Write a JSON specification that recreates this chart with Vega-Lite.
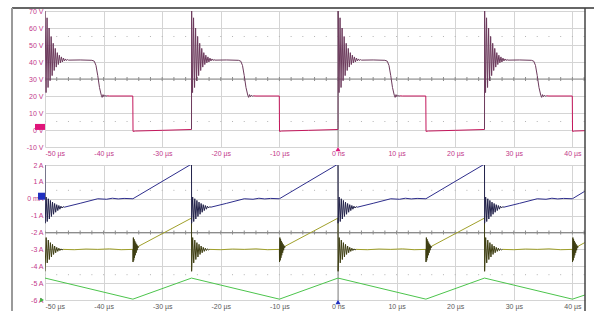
{
"$schema": "https://vega.github.io/schema/vega-lite/v6.json",
"padding": {"left": 11, "top": 7, "right": 0, "bottom": 0},
"background": "white",
"spacing": 18,
"bounds": "flush",
"resolve": {"scale": {"color": "independent"}},
"config": {"view": {"stroke": null}, "axis": {"labelFont": "Liberation Sans", "labelFontSize": 7, "tickSize": 0, "domain": false, "gridColor": "#d4d4d4", "gridWidth": 1, "labelPadding": 2, "title": null, "labelOverlap": false}},
"datasets": {
"V": [
{"k":"1r","c":"vr","t":-50,"v":75},{"k":"1r","c":"vr","t":-49.82,"v":22},{"k":"1r","c":"vr","t":-49.65,"v":66},{"k":"1r","c":"vr","t":-49.48,"v":25},{"k":"1r","c":"vr","t":-49.3,"v":60},{"k":"1r","c":"vr","t":-49.13,"v":29},{"k":"1r","c":"vr","t":-48.95,"v":55},{"k":"1r","c":"vr","t":-48.78,"v":32},{"k":"1r","c":"vr","t":-48.6,"v":51},{"k":"1r","c":"vr","t":-48.43,"v":35},{"k":"1r","c":"vr","t":-48.25,"v":48},{"k":"1r","c":"vr","t":-48.08,"v":37},{"k":"1r","c":"vr","t":-47.9,"v":45.5},{"k":"1r","c":"vr","t":-47.73,"v":38.5},{"k":"1r","c":"vr","t":-47.55,"v":44},{"k":"1r","c":"vr","t":-47.38,"v":39.5},{"k":"1r","c":"vr","t":-47.2,"v":43},{"k":"1r","c":"vr","t":-47.03,"v":40},{"k":"1r","c":"vr","t":-46.85,"v":42.3},{"k":"1r","c":"vr","t":-46.68,"v":40.6},{"k":"1r","c":"vr","t":-46.5,"v":41.8},{"k":"1r","c":"vr","t":-46.33,"v":40.9},{"k":"1r","c":"vr","t":-46.15,"v":41.4},{"k":"1r","c":"vr","t":-46,"v":41.1},{"k":"1r","c":"vr","t":-44,"v":41.2},{"k":"1r","c":"vr","t":-42,"v":41},{"k":"1r","c":"vr","t":-41.6,"v":40.5},{"k":"1r","c":"vr","t":-41.3,"v":38},{"k":"1r","c":"vr","t":-41,"v":32},{"k":"1r","c":"vr","t":-40.7,"v":25},{"k":"1r","c":"vr","t":-40.4,"v":20.5},{"k":"1r","c":"vr","t":-40.25,"v":19.2},{"k":"1r","c":"vr","t":-40.1,"v":20.8},{"k":"1r","c":"vr","t":-39.95,"v":19.6},{"k":"1r","c":"vr","t":-39.8,"v":20.4},{"k":"1r","c":"vr","t":-39.6,"v":19.9},{"k":"1r","c":"vr","t":-39.4,"v":20.1},
{"k":"1s","c":"vs","t":-39.4,"v":20.1},{"k":"1s","c":"vs","t":-39,"v":20},{"k":"1s","c":"vs","t":-35.02,"v":20},{"k":"1s","c":"vs","t":-34.98,"v":-0.8},{"k":"1s","c":"vs","t":-34.6,"v":-0.6},{"k":"1s","c":"vs","t":-30,"v":-0.2},{"k":"1s","c":"vs","t":-25.02,"v":0.3},{"k":"1s","c":"vs","t":-25,"v":0.3},
{"k":"2r","c":"vr","t":-25,"v":0.3},{"k":"2r","c":"vr","t":-24.98,"v":75},{"k":"2r","c":"vr","t":-24.82,"v":22},{"k":"2r","c":"vr","t":-24.65,"v":66},{"k":"2r","c":"vr","t":-24.48,"v":25},{"k":"2r","c":"vr","t":-24.3,"v":60},{"k":"2r","c":"vr","t":-24.13,"v":29},{"k":"2r","c":"vr","t":-23.95,"v":55},{"k":"2r","c":"vr","t":-23.78,"v":32},{"k":"2r","c":"vr","t":-23.6,"v":51},{"k":"2r","c":"vr","t":-23.43,"v":35},{"k":"2r","c":"vr","t":-23.25,"v":48},{"k":"2r","c":"vr","t":-23.08,"v":37},{"k":"2r","c":"vr","t":-22.9,"v":45.5},{"k":"2r","c":"vr","t":-22.73,"v":38.5},{"k":"2r","c":"vr","t":-22.55,"v":44},{"k":"2r","c":"vr","t":-22.38,"v":39.5},{"k":"2r","c":"vr","t":-22.2,"v":43},{"k":"2r","c":"vr","t":-22.03,"v":40},{"k":"2r","c":"vr","t":-21.85,"v":42.3},{"k":"2r","c":"vr","t":-21.68,"v":40.6},{"k":"2r","c":"vr","t":-21.5,"v":41.8},{"k":"2r","c":"vr","t":-21.33,"v":40.9},{"k":"2r","c":"vr","t":-21.15,"v":41.4},{"k":"2r","c":"vr","t":-21,"v":41.1},{"k":"2r","c":"vr","t":-19,"v":41.2},{"k":"2r","c":"vr","t":-17,"v":41},{"k":"2r","c":"vr","t":-16.6,"v":40.5},{"k":"2r","c":"vr","t":-16.3,"v":38},{"k":"2r","c":"vr","t":-16,"v":32},{"k":"2r","c":"vr","t":-15.7,"v":25},{"k":"2r","c":"vr","t":-15.4,"v":20.5},{"k":"2r","c":"vr","t":-15.25,"v":19.2},{"k":"2r","c":"vr","t":-15.1,"v":20.8},{"k":"2r","c":"vr","t":-14.95,"v":19.6},{"k":"2r","c":"vr","t":-14.8,"v":20.4},{"k":"2r","c":"vr","t":-14.6,"v":19.9},{"k":"2r","c":"vr","t":-14.4,"v":20.1},
{"k":"2s","c":"vs","t":-14.4,"v":20.1},{"k":"2s","c":"vs","t":-14,"v":20},{"k":"2s","c":"vs","t":-10.02,"v":20},{"k":"2s","c":"vs","t":-9.98,"v":-0.8},{"k":"2s","c":"vs","t":-9.6,"v":-0.6},{"k":"2s","c":"vs","t":-5,"v":-0.2},{"k":"2s","c":"vs","t":-0.02,"v":0.3},{"k":"2s","c":"vs","t":0,"v":0.3},
{"k":"3r","c":"vr","t":0,"v":0.3},{"k":"3r","c":"vr","t":0.02,"v":75},{"k":"3r","c":"vr","t":0.18,"v":22},{"k":"3r","c":"vr","t":0.35,"v":66},{"k":"3r","c":"vr","t":0.52,"v":25},{"k":"3r","c":"vr","t":0.7,"v":60},{"k":"3r","c":"vr","t":0.87,"v":29},{"k":"3r","c":"vr","t":1.05,"v":55},{"k":"3r","c":"vr","t":1.22,"v":32},{"k":"3r","c":"vr","t":1.4,"v":51},{"k":"3r","c":"vr","t":1.57,"v":35},{"k":"3r","c":"vr","t":1.75,"v":48},{"k":"3r","c":"vr","t":1.92,"v":37},{"k":"3r","c":"vr","t":2.1,"v":45.5},{"k":"3r","c":"vr","t":2.27,"v":38.5},{"k":"3r","c":"vr","t":2.45,"v":44},{"k":"3r","c":"vr","t":2.62,"v":39.5},{"k":"3r","c":"vr","t":2.8,"v":43},{"k":"3r","c":"vr","t":2.97,"v":40},{"k":"3r","c":"vr","t":3.15,"v":42.3},{"k":"3r","c":"vr","t":3.32,"v":40.6},{"k":"3r","c":"vr","t":3.5,"v":41.8},{"k":"3r","c":"vr","t":3.67,"v":40.9},{"k":"3r","c":"vr","t":3.85,"v":41.4},{"k":"3r","c":"vr","t":4,"v":41.1},{"k":"3r","c":"vr","t":6,"v":41.2},{"k":"3r","c":"vr","t":8,"v":41},{"k":"3r","c":"vr","t":8.4,"v":40.5},{"k":"3r","c":"vr","t":8.7,"v":38},{"k":"3r","c":"vr","t":9,"v":32},{"k":"3r","c":"vr","t":9.3,"v":25},{"k":"3r","c":"vr","t":9.6,"v":20.5},{"k":"3r","c":"vr","t":9.75,"v":19.2},{"k":"3r","c":"vr","t":9.9,"v":20.8},{"k":"3r","c":"vr","t":10.05,"v":19.6},{"k":"3r","c":"vr","t":10.2,"v":20.4},{"k":"3r","c":"vr","t":10.4,"v":19.9},{"k":"3r","c":"vr","t":10.6,"v":20.1},
{"k":"3s","c":"vs","t":10.6,"v":20.1},{"k":"3s","c":"vs","t":11,"v":20},{"k":"3s","c":"vs","t":14.98,"v":20},{"k":"3s","c":"vs","t":15.02,"v":-0.8},{"k":"3s","c":"vs","t":15.4,"v":-0.6},{"k":"3s","c":"vs","t":20,"v":-0.2},{"k":"3s","c":"vs","t":24.98,"v":0.3},{"k":"3s","c":"vs","t":25,"v":0.3},
{"k":"4r","c":"vr","t":25,"v":0.3},{"k":"4r","c":"vr","t":25.02,"v":75},{"k":"4r","c":"vr","t":25.18,"v":22},{"k":"4r","c":"vr","t":25.35,"v":66},{"k":"4r","c":"vr","t":25.52,"v":25},{"k":"4r","c":"vr","t":25.7,"v":60},{"k":"4r","c":"vr","t":25.87,"v":29},{"k":"4r","c":"vr","t":26.05,"v":55},{"k":"4r","c":"vr","t":26.22,"v":32},{"k":"4r","c":"vr","t":26.4,"v":51},{"k":"4r","c":"vr","t":26.57,"v":35},{"k":"4r","c":"vr","t":26.75,"v":48},{"k":"4r","c":"vr","t":26.92,"v":37},{"k":"4r","c":"vr","t":27.1,"v":45.5},{"k":"4r","c":"vr","t":27.27,"v":38.5},{"k":"4r","c":"vr","t":27.45,"v":44},{"k":"4r","c":"vr","t":27.62,"v":39.5},{"k":"4r","c":"vr","t":27.8,"v":43},{"k":"4r","c":"vr","t":27.97,"v":40},{"k":"4r","c":"vr","t":28.15,"v":42.3},{"k":"4r","c":"vr","t":28.32,"v":40.6},{"k":"4r","c":"vr","t":28.5,"v":41.8},{"k":"4r","c":"vr","t":28.67,"v":40.9},{"k":"4r","c":"vr","t":28.85,"v":41.4},{"k":"4r","c":"vr","t":29,"v":41.1},{"k":"4r","c":"vr","t":31,"v":41.2},{"k":"4r","c":"vr","t":33,"v":41},{"k":"4r","c":"vr","t":33.4,"v":40.5},{"k":"4r","c":"vr","t":33.7,"v":38},{"k":"4r","c":"vr","t":34,"v":32},{"k":"4r","c":"vr","t":34.3,"v":25},{"k":"4r","c":"vr","t":34.6,"v":20.5},{"k":"4r","c":"vr","t":34.75,"v":19.2},{"k":"4r","c":"vr","t":34.9,"v":20.8},{"k":"4r","c":"vr","t":35.05,"v":19.6},{"k":"4r","c":"vr","t":35.2,"v":20.4},{"k":"4r","c":"vr","t":35.4,"v":19.9},{"k":"4r","c":"vr","t":35.6,"v":20.1},
{"k":"4s","c":"vs","t":35.6,"v":20.1},{"k":"4s","c":"vs","t":36,"v":20},{"k":"4s","c":"vs","t":39.98,"v":20},{"k":"4s","c":"vs","t":40.02,"v":-0.8},{"k":"4s","c":"vs","t":40.4,"v":-0.6},{"k":"4s","c":"vs","t":42.15,"v":-0.4}
],
"I": [
{"k":"g","c":"g","t":-50,"v":-4.7},{"k":"g","c":"g","t":-35,"v":-5.95},{"k":"g","c":"g","t":-25,"v":-4.7},{"k":"g","c":"g","t":-10,"v":-5.95},{"k":"g","c":"g","t":0,"v":-4.7},{"k":"g","c":"g","t":15,"v":-5.95},{"k":"g","c":"g","t":25,"v":-4.7},{"k":"g","c":"g","t":40,"v":-5.95},{"k":"g","c":"g","t":42.15,"v":-5.7},
{"k":"o1a","c":"or","t":-50,"v":-4.3},{"k":"o1a","c":"or","t":-49.8,"v":-2.3},{"k":"o1a","c":"or","t":-49.62,"v":-3.8},{"k":"o1a","c":"or","t":-49.44,"v":-2.45},{"k":"o1a","c":"or","t":-49.26,"v":-3.6},{"k":"o1a","c":"or","t":-49.08,"v":-2.6},{"k":"o1a","c":"or","t":-48.9,"v":-3.45},{"k":"o1a","c":"or","t":-48.72,"v":-2.7},{"k":"o1a","c":"or","t":-48.54,"v":-3.3},{"k":"o1a","c":"or","t":-48.36,"v":-2.8},{"k":"o1a","c":"or","t":-48.18,"v":-3.2},{"k":"o1a","c":"or","t":-48,"v":-2.88},{"k":"o1a","c":"or","t":-47.82,"v":-3.12},{"k":"o1a","c":"or","t":-47.64,"v":-2.93},{"k":"o1a","c":"or","t":-47.46,"v":-3.07},{"k":"o1a","c":"or","t":-47.28,"v":-2.97},{"k":"o1a","c":"or","t":-47.1,"v":-3.03},{"k":"o1a","c":"or","t":-46.9,"v":-3},
{"k":"o1b","c":"os","t":-46.9,"v":-3},{"k":"o1b","c":"os","t":-45,"v":-3.02},{"k":"o1b","c":"os","t":-43,"v":-2.98},{"k":"o1b","c":"os","t":-41,"v":-3},{"k":"o1b","c":"os","t":-39,"v":-2.97},{"k":"o1b","c":"os","t":-37,"v":-3.02},{"k":"o1b","c":"os","t":-35,"v":-3},
{"k":"o1c","c":"or","t":-35,"v":-3},{"k":"o1c","c":"or","t":-34.98,"v":-3.75},{"k":"o1c","c":"or","t":-34.92,"v":-2.3},{"k":"o1c","c":"or","t":-34.86,"v":-3.65},{"k":"o1c","c":"or","t":-34.8,"v":-2.4},{"k":"o1c","c":"or","t":-34.74,"v":-3.5},{"k":"o1c","c":"or","t":-34.68,"v":-2.5},{"k":"o1c","c":"or","t":-34.6,"v":-3.35},{"k":"o1c","c":"or","t":-34.52,"v":-2.6},{"k":"o1c","c":"or","t":-34.44,"v":-3.2},{"k":"o1c","c":"or","t":-34.36,"v":-2.7},{"k":"o1c","c":"or","t":-34.28,"v":-3.05},{"k":"o1c","c":"or","t":-34.2,"v":-2.78},{"k":"o1c","c":"or","t":-34.1,"v":-2.9},{"k":"o1c","c":"or","t":-34,"v":-2.81},
{"k":"o1d","c":"os","t":-34,"v":-2.81},{"k":"o1d","c":"os","t":-25.02,"v":-1.15},{"k":"o1d","c":"os","t":-25,"v":-1.15},
{"k":"o2a","c":"or","t":-25,"v":-1.15},{"k":"o2a","c":"or","t":-24.98,"v":-4.3},{"k":"o2a","c":"or","t":-24.8,"v":-2.3},{"k":"o2a","c":"or","t":-24.62,"v":-3.8},{"k":"o2a","c":"or","t":-24.44,"v":-2.45},{"k":"o2a","c":"or","t":-24.26,"v":-3.6},{"k":"o2a","c":"or","t":-24.08,"v":-2.6},{"k":"o2a","c":"or","t":-23.9,"v":-3.45},{"k":"o2a","c":"or","t":-23.72,"v":-2.7},{"k":"o2a","c":"or","t":-23.54,"v":-3.3},{"k":"o2a","c":"or","t":-23.36,"v":-2.8},{"k":"o2a","c":"or","t":-23.18,"v":-3.2},{"k":"o2a","c":"or","t":-23,"v":-2.88},{"k":"o2a","c":"or","t":-22.82,"v":-3.12},{"k":"o2a","c":"or","t":-22.64,"v":-2.93},{"k":"o2a","c":"or","t":-22.46,"v":-3.07},{"k":"o2a","c":"or","t":-22.28,"v":-2.97},{"k":"o2a","c":"or","t":-22.1,"v":-3.03},{"k":"o2a","c":"or","t":-21.9,"v":-3},
{"k":"o2b","c":"os","t":-21.9,"v":-3},{"k":"o2b","c":"os","t":-20,"v":-3.02},{"k":"o2b","c":"os","t":-18,"v":-2.98},{"k":"o2b","c":"os","t":-16,"v":-3},{"k":"o2b","c":"os","t":-14,"v":-2.97},{"k":"o2b","c":"os","t":-12,"v":-3.02},{"k":"o2b","c":"os","t":-10,"v":-3},
{"k":"o2c","c":"or","t":-10,"v":-3},{"k":"o2c","c":"or","t":-9.98,"v":-3.75},{"k":"o2c","c":"or","t":-9.92,"v":-2.3},{"k":"o2c","c":"or","t":-9.86,"v":-3.65},{"k":"o2c","c":"or","t":-9.8,"v":-2.4},{"k":"o2c","c":"or","t":-9.74,"v":-3.5},{"k":"o2c","c":"or","t":-9.68,"v":-2.5},{"k":"o2c","c":"or","t":-9.6,"v":-3.35},{"k":"o2c","c":"or","t":-9.52,"v":-2.6},{"k":"o2c","c":"or","t":-9.44,"v":-3.2},{"k":"o2c","c":"or","t":-9.36,"v":-2.7},{"k":"o2c","c":"or","t":-9.28,"v":-3.05},{"k":"o2c","c":"or","t":-9.2,"v":-2.78},{"k":"o2c","c":"or","t":-9.1,"v":-2.9},{"k":"o2c","c":"or","t":-9,"v":-2.81},
{"k":"o2d","c":"os","t":-9,"v":-2.81},{"k":"o2d","c":"os","t":-0.02,"v":-1.15},{"k":"o2d","c":"os","t":0,"v":-1.15},
{"k":"o3a","c":"or","t":0,"v":-1.15},{"k":"o3a","c":"or","t":0.02,"v":-4.3},{"k":"o3a","c":"or","t":0.2,"v":-2.3},{"k":"o3a","c":"or","t":0.38,"v":-3.8},{"k":"o3a","c":"or","t":0.56,"v":-2.45},{"k":"o3a","c":"or","t":0.74,"v":-3.6},{"k":"o3a","c":"or","t":0.92,"v":-2.6},{"k":"o3a","c":"or","t":1.1,"v":-3.45},{"k":"o3a","c":"or","t":1.28,"v":-2.7},{"k":"o3a","c":"or","t":1.46,"v":-3.3},{"k":"o3a","c":"or","t":1.64,"v":-2.8},{"k":"o3a","c":"or","t":1.82,"v":-3.2},{"k":"o3a","c":"or","t":2,"v":-2.88},{"k":"o3a","c":"or","t":2.18,"v":-3.12},{"k":"o3a","c":"or","t":2.36,"v":-2.93},{"k":"o3a","c":"or","t":2.54,"v":-3.07},{"k":"o3a","c":"or","t":2.72,"v":-2.97},{"k":"o3a","c":"or","t":2.9,"v":-3.03},{"k":"o3a","c":"or","t":3.1,"v":-3},
{"k":"o3b","c":"os","t":3.1,"v":-3},{"k":"o3b","c":"os","t":5,"v":-3.02},{"k":"o3b","c":"os","t":7,"v":-2.98},{"k":"o3b","c":"os","t":9,"v":-3},{"k":"o3b","c":"os","t":11,"v":-2.97},{"k":"o3b","c":"os","t":13,"v":-3.02},{"k":"o3b","c":"os","t":15,"v":-3},
{"k":"o3c","c":"or","t":15,"v":-3},{"k":"o3c","c":"or","t":15.02,"v":-3.75},{"k":"o3c","c":"or","t":15.08,"v":-2.3},{"k":"o3c","c":"or","t":15.14,"v":-3.65},{"k":"o3c","c":"or","t":15.2,"v":-2.4},{"k":"o3c","c":"or","t":15.26,"v":-3.5},{"k":"o3c","c":"or","t":15.32,"v":-2.5},{"k":"o3c","c":"or","t":15.4,"v":-3.35},{"k":"o3c","c":"or","t":15.48,"v":-2.6},{"k":"o3c","c":"or","t":15.56,"v":-3.2},{"k":"o3c","c":"or","t":15.64,"v":-2.7},{"k":"o3c","c":"or","t":15.72,"v":-3.05},{"k":"o3c","c":"or","t":15.8,"v":-2.78},{"k":"o3c","c":"or","t":15.9,"v":-2.9},{"k":"o3c","c":"or","t":16,"v":-2.81},
{"k":"o3d","c":"os","t":16,"v":-2.81},{"k":"o3d","c":"os","t":24.98,"v":-1.15},{"k":"o3d","c":"os","t":25,"v":-1.15},
{"k":"o4a","c":"or","t":25,"v":-1.15},{"k":"o4a","c":"or","t":25.02,"v":-4.3},{"k":"o4a","c":"or","t":25.2,"v":-2.3},{"k":"o4a","c":"or","t":25.38,"v":-3.8},{"k":"o4a","c":"or","t":25.56,"v":-2.45},{"k":"o4a","c":"or","t":25.74,"v":-3.6},{"k":"o4a","c":"or","t":25.92,"v":-2.6},{"k":"o4a","c":"or","t":26.1,"v":-3.45},{"k":"o4a","c":"or","t":26.28,"v":-2.7},{"k":"o4a","c":"or","t":26.46,"v":-3.3},{"k":"o4a","c":"or","t":26.64,"v":-2.8},{"k":"o4a","c":"or","t":26.82,"v":-3.2},{"k":"o4a","c":"or","t":27,"v":-2.88},{"k":"o4a","c":"or","t":27.18,"v":-3.12},{"k":"o4a","c":"or","t":27.36,"v":-2.93},{"k":"o4a","c":"or","t":27.54,"v":-3.07},{"k":"o4a","c":"or","t":27.72,"v":-2.97},{"k":"o4a","c":"or","t":27.9,"v":-3.03},{"k":"o4a","c":"or","t":28.1,"v":-3},
{"k":"o4b","c":"os","t":28.1,"v":-3},{"k":"o4b","c":"os","t":30,"v":-3.02},{"k":"o4b","c":"os","t":32,"v":-2.98},{"k":"o4b","c":"os","t":34,"v":-3},{"k":"o4b","c":"os","t":36,"v":-2.97},{"k":"o4b","c":"os","t":38,"v":-3.02},{"k":"o4b","c":"os","t":40,"v":-3},
{"k":"o4c","c":"or","t":40,"v":-3},{"k":"o4c","c":"or","t":40.02,"v":-3.75},{"k":"o4c","c":"or","t":40.08,"v":-2.3},{"k":"o4c","c":"or","t":40.14,"v":-3.65},{"k":"o4c","c":"or","t":40.2,"v":-2.4},{"k":"o4c","c":"or","t":40.26,"v":-3.5},{"k":"o4c","c":"or","t":40.32,"v":-2.5},{"k":"o4c","c":"or","t":40.4,"v":-3.35},{"k":"o4c","c":"or","t":40.48,"v":-2.6},{"k":"o4c","c":"or","t":40.56,"v":-3.2},{"k":"o4c","c":"or","t":40.64,"v":-2.7},{"k":"o4c","c":"or","t":40.72,"v":-3.05},{"k":"o4c","c":"or","t":40.8,"v":-2.78},{"k":"o4c","c":"or","t":40.9,"v":-2.9},{"k":"o4c","c":"or","t":41,"v":-2.81},
{"k":"o4d","c":"os","t":41,"v":-2.81},{"k":"o4d","c":"os","t":42.15,"v":-2.59},
{"k":"b1a","c":"br","t":-50,"v":2.05},{"k":"b1a","c":"br","t":-49.98,"v":-1.45},{"k":"b1a","c":"br","t":-49.8,"v":0.1},{"k":"b1a","c":"br","t":-49.62,"v":-1.35},{"k":"b1a","c":"br","t":-49.44,"v":0},{"k":"b1a","c":"br","t":-49.26,"v":-1.2},{"k":"b1a","c":"br","t":-49.08,"v":-0.1},{"k":"b1a","c":"br","t":-48.9,"v":-1.05},{"k":"b1a","c":"br","t":-48.72,"v":-0.2},{"k":"b1a","c":"br","t":-48.54,"v":-0.92},{"k":"b1a","c":"br","t":-48.36,"v":-0.28},{"k":"b1a","c":"br","t":-48.18,"v":-0.8},{"k":"b1a","c":"br","t":-48,"v":-0.35},{"k":"b1a","c":"br","t":-47.82,"v":-0.7},{"k":"b1a","c":"br","t":-47.64,"v":-0.4},{"k":"b1a","c":"br","t":-47.46,"v":-0.62},{"k":"b1a","c":"br","t":-47.28,"v":-0.44},{"k":"b1a","c":"br","t":-47.1,"v":-0.55},{"k":"b1a","c":"br","t":-46.9,"v":-0.47},{"k":"b1a","c":"br","t":-46.7,"v":-0.5},
{"k":"b1b","c":"bs","t":-46.7,"v":-0.5},{"k":"b1b","c":"bs","t":-44,"v":-0.27},{"k":"b1b","c":"bs","t":-41,"v":0},{"k":"b1b","c":"bs","t":-39.5,"v":-0.03},{"k":"b1b","c":"bs","t":-38.5,"v":0.03},{"k":"b1b","c":"bs","t":-37.5,"v":-0.01},{"k":"b1b","c":"bs","t":-36.5,"v":0.02},{"k":"b1b","c":"bs","t":-35,"v":0},{"k":"b1b","c":"bs","t":-25.02,"v":2.05},{"k":"b1b","c":"bs","t":-25,"v":2.05},
{"k":"b2a","c":"br","t":-25,"v":2.05},{"k":"b2a","c":"br","t":-24.98,"v":-1.45},{"k":"b2a","c":"br","t":-24.8,"v":0.1},{"k":"b2a","c":"br","t":-24.62,"v":-1.35},{"k":"b2a","c":"br","t":-24.44,"v":0},{"k":"b2a","c":"br","t":-24.26,"v":-1.2},{"k":"b2a","c":"br","t":-24.08,"v":-0.1},{"k":"b2a","c":"br","t":-23.9,"v":-1.05},{"k":"b2a","c":"br","t":-23.72,"v":-0.2},{"k":"b2a","c":"br","t":-23.54,"v":-0.92},{"k":"b2a","c":"br","t":-23.36,"v":-0.28},{"k":"b2a","c":"br","t":-23.18,"v":-0.8},{"k":"b2a","c":"br","t":-23,"v":-0.35},{"k":"b2a","c":"br","t":-22.82,"v":-0.7},{"k":"b2a","c":"br","t":-22.64,"v":-0.4},{"k":"b2a","c":"br","t":-22.46,"v":-0.62},{"k":"b2a","c":"br","t":-22.28,"v":-0.44},{"k":"b2a","c":"br","t":-22.1,"v":-0.55},{"k":"b2a","c":"br","t":-21.9,"v":-0.47},{"k":"b2a","c":"br","t":-21.7,"v":-0.5},
{"k":"b2b","c":"bs","t":-21.7,"v":-0.5},{"k":"b2b","c":"bs","t":-19,"v":-0.27},{"k":"b2b","c":"bs","t":-16,"v":0},{"k":"b2b","c":"bs","t":-14.5,"v":-0.03},{"k":"b2b","c":"bs","t":-13.5,"v":0.03},{"k":"b2b","c":"bs","t":-12.5,"v":-0.01},{"k":"b2b","c":"bs","t":-11.5,"v":0.02},{"k":"b2b","c":"bs","t":-10,"v":0},{"k":"b2b","c":"bs","t":-0.02,"v":2.05},{"k":"b2b","c":"bs","t":0,"v":2.05},
{"k":"b3a","c":"br","t":0,"v":2.05},{"k":"b3a","c":"br","t":0.02,"v":-1.45},{"k":"b3a","c":"br","t":0.2,"v":0.1},{"k":"b3a","c":"br","t":0.38,"v":-1.35},{"k":"b3a","c":"br","t":0.56,"v":0},{"k":"b3a","c":"br","t":0.74,"v":-1.2},{"k":"b3a","c":"br","t":0.92,"v":-0.1},{"k":"b3a","c":"br","t":1.1,"v":-1.05},{"k":"b3a","c":"br","t":1.28,"v":-0.2},{"k":"b3a","c":"br","t":1.46,"v":-0.92},{"k":"b3a","c":"br","t":1.64,"v":-0.28},{"k":"b3a","c":"br","t":1.82,"v":-0.8},{"k":"b3a","c":"br","t":2,"v":-0.35},{"k":"b3a","c":"br","t":2.18,"v":-0.7},{"k":"b3a","c":"br","t":2.36,"v":-0.4},{"k":"b3a","c":"br","t":2.54,"v":-0.62},{"k":"b3a","c":"br","t":2.72,"v":-0.44},{"k":"b3a","c":"br","t":2.9,"v":-0.55},{"k":"b3a","c":"br","t":3.1,"v":-0.47},{"k":"b3a","c":"br","t":3.3,"v":-0.5},
{"k":"b3b","c":"bs","t":3.3,"v":-0.5},{"k":"b3b","c":"bs","t":6,"v":-0.27},{"k":"b3b","c":"bs","t":9,"v":0},{"k":"b3b","c":"bs","t":10.5,"v":-0.03},{"k":"b3b","c":"bs","t":11.5,"v":0.03},{"k":"b3b","c":"bs","t":12.5,"v":-0.01},{"k":"b3b","c":"bs","t":13.5,"v":0.02},{"k":"b3b","c":"bs","t":15,"v":0},{"k":"b3b","c":"bs","t":24.98,"v":2.05},{"k":"b3b","c":"bs","t":25,"v":2.05},
{"k":"b4a","c":"br","t":25,"v":2.05},{"k":"b4a","c":"br","t":25.02,"v":-1.45},{"k":"b4a","c":"br","t":25.2,"v":0.1},{"k":"b4a","c":"br","t":25.38,"v":-1.35},{"k":"b4a","c":"br","t":25.56,"v":0},{"k":"b4a","c":"br","t":25.74,"v":-1.2},{"k":"b4a","c":"br","t":25.92,"v":-0.1},{"k":"b4a","c":"br","t":26.1,"v":-1.05},{"k":"b4a","c":"br","t":26.28,"v":-0.2},{"k":"b4a","c":"br","t":26.46,"v":-0.92},{"k":"b4a","c":"br","t":26.64,"v":-0.28},{"k":"b4a","c":"br","t":26.82,"v":-0.8},{"k":"b4a","c":"br","t":27,"v":-0.35},{"k":"b4a","c":"br","t":27.18,"v":-0.7},{"k":"b4a","c":"br","t":27.36,"v":-0.4},{"k":"b4a","c":"br","t":27.54,"v":-0.62},{"k":"b4a","c":"br","t":27.72,"v":-0.44},{"k":"b4a","c":"br","t":27.9,"v":-0.55},{"k":"b4a","c":"br","t":28.1,"v":-0.47},{"k":"b4a","c":"br","t":28.3,"v":-0.5},
{"k":"b4b","c":"bs","t":28.3,"v":-0.5},{"k":"b4b","c":"bs","t":31,"v":-0.27},{"k":"b4b","c":"bs","t":34,"v":0},{"k":"b4b","c":"bs","t":35.5,"v":-0.03},{"k":"b4b","c":"bs","t":36.5,"v":0.03},{"k":"b4b","c":"bs","t":37.5,"v":-0.01},{"k":"b4b","c":"bs","t":38.5,"v":0.02},{"k":"b4b","c":"bs","t":40,"v":0},{"k":"b4b","c":"bs","t":42.15,"v":0.45}
]
},
"vconcat": [
{
"width": 540, "height": 136,
"encoding": {
"x": {"field": "t", "type": "quantitative", "scale": {"domain": [-50, 42.15], "nice": false, "zero": false}, "axis": {"values": [-50,-40,-30,-20,-10,0,10,20,30,40], "labelExpr": "datum.value === 0 ? '0 ns' : datum.value + ' µs'", "labelColor": "#c2388a", "grid": true}},
"y": {"field": "v", "type": "quantitative", "scale": {"domain": [-10, 70], "nice": false, "zero": false}, "axis": {"values": [-10,0,10,20,30,40,50,60,70], "labelExpr": "datum.value + ' V'", "labelColor": "#c2388a", "grid": true}}
},
"layer": [
{"data": {"values": [{"t":-50,"t2":42.15,"v":55},{"t":-50,"t2":42.15,"v":5}]}, "mark": {"type": "rule", "color": "#b4b4b4", "strokeWidth": 1, "strokeDash": [1, 10.72], "strokeDashOffset": 0.5}, "encoding": {"x2": {"field": "t2"}}},
{"data": {"values": [{"t":-50,"t2":42.15,"v":30}]}, "mark": {"type": "rule", "color": "#8c8c8c", "strokeWidth": 1}, "encoding": {"x2": {"field": "t2"}}},
{"data": {"values": [{"t":-50,"t2":42.15,"v":30}]}, "mark": {"type": "rule", "color": "#8c8c8c", "strokeWidth": 4, "strokeDash": [1, 10.72], "strokeDashOffset": 0.5}, "encoding": {"x2": {"field": "t2"}}},
{"data": {"values": [{"t":0,"v":-10,"v2":70}]}, "mark": {"type": "rule", "color": "#8c8c8c", "strokeWidth": 1}, "encoding": {"y2": {"field": "v2"}}},
{"data": {"name": "V"}, "mark": {"type": "line", "strokeWidth": 1, "clip": true}, "encoding": {"color": {"field": "c", "type": "nominal", "scale": {"domain": ["vr","vs","g","os","or","bs","br"], "range": ["#6c3a5c","#c4175c","#4cc44c","#a0a02a","#3e3e12","#2e2e8c","#22224a"]}, "legend": null}, "detail": {"field": "k"}}},
{"data": {"values": [{"t":-50.85,"v":1.8}]}, "mark": {"type": "point", "shape": "M-1,-0.6L1,-0.6L1,0.6L-1,0.6Z", "filled": true, "color": "#e0157a", "size": 100, "opacity": 1}},
{"data": {"values": [{"t":0,"v":-11.2}]}, "mark": {"type": "point", "shape": "triangle-up", "filled": true, "color": "#e0157a", "size": 25, "opacity": 1}},
{"data": {"values": [{"t":-55.63,"t2":43.69,"v":71.76}]}, "mark": {"type": "rule", "color": "#333333", "strokeWidth": 1.5}, "encoding": {"x2": {"field": "t2"}}},
{"data": {"values": [{"t":-55.63,"v":71.76,"v2":-20.6}]}, "mark": {"type": "rule", "color": "#9a9a9a", "strokeWidth": 2}, "encoding": {"y2": {"field": "v2"}}},
{"data": {"values": [{"t":42.15,"v":71.76,"v2":-20.6}]}, "mark": {"type": "rule", "color": "#444444", "strokeWidth": 1.5}, "encoding": {"y2": {"field": "v2"}}}
]
},
{
"width": 540, "height": 135,
"encoding": {
"x": {"field": "t", "type": "quantitative", "scale": {"domain": [-50, 42.15], "nice": false, "zero": false}, "axis": {"values": [-50,-40,-30,-20,-10,0,10,20,30,40], "labelExpr": "datum.value === 0 ? '0 ns' : datum.value + ' µs'", "labelColor": "#5a5a5a", "grid": true}},
"y": {"field": "v", "type": "quantitative", "scale": {"domain": [-6, 2], "nice": false, "zero": false}, "axis": {"values": [-6,-5,-4,-3,-2,-1,0,1,2], "labelExpr": "datum.value === 0 ? '0 mA' : datum.value + ' A'", "labelColor": "#c2388a", "grid": true}}
},
"layer": [
{"data": {"values": [{"t":-50,"t2":42.15,"v":0.5},{"t":-50,"t2":42.15,"v":-4.5}]}, "mark": {"type": "rule", "color": "#b4b4b4", "strokeWidth": 1, "strokeDash": [1, 10.72], "strokeDashOffset": 0.5}, "encoding": {"x2": {"field": "t2"}}},
{"data": {"values": [{"t":-50,"t2":42.15,"v":-2}]}, "mark": {"type": "rule", "color": "#8c8c8c", "strokeWidth": 1}, "encoding": {"x2": {"field": "t2"}}},
{"data": {"values": [{"t":-50,"t2":42.15,"v":-2}]}, "mark": {"type": "rule", "color": "#8c8c8c", "strokeWidth": 4, "strokeDash": [1, 10.72], "strokeDashOffset": 0.5}, "encoding": {"x2": {"field": "t2"}}},
{"data": {"values": [{"t":0,"v":-6,"v2":2}]}, "mark": {"type": "rule", "color": "#8c8c8c", "strokeWidth": 1}, "encoding": {"y2": {"field": "v2"}}},
{"data": {"name": "I"}, "mark": {"type": "line", "strokeWidth": 1, "clip": true}, "encoding": {"color": {"field": "c", "type": "nominal", "scale": {"domain": ["vr","vs","g","os","or","bs","br"], "range": ["#6c3a5c","#c4175c","#4cc44c","#a0a02a","#3e3e12","#2e2e8c","#22224a"]}, "legend": null}, "detail": {"field": "k"}}},
{"data": {"values": [{"t":-50.6,"v":0.15}]}, "mark": {"type": "point", "shape": "square", "filled": true, "color": "#1f2fc0", "size": 49, "opacity": 1}},
{"data": {"values": [{"t":-50.5,"v":-6}]}, "mark": {"type": "point", "shape": "triangle-right", "filled": true, "color": "#3cb83c", "size": 20, "opacity": 1}},
{"data": {"values": [{"t":0,"v":-6.12}]}, "mark": {"type": "point", "shape": "triangle-up", "filled": true, "color": "#2030c0", "size": 25, "opacity": 1}},
{"data": {"values": [{"t":-55.63,"v":2,"v2":-6.65}]}, "mark": {"type": "rule", "color": "#9a9a9a", "strokeWidth": 2}, "encoding": {"y2": {"field": "v2"}}},
{"data": {"values": [{"t":42.15,"v":2,"v2":-6.65}]}, "mark": {"type": "rule", "color": "#444444", "strokeWidth": 1.5}, "encoding": {"y2": {"field": "v2"}}}
]
}
]
}
